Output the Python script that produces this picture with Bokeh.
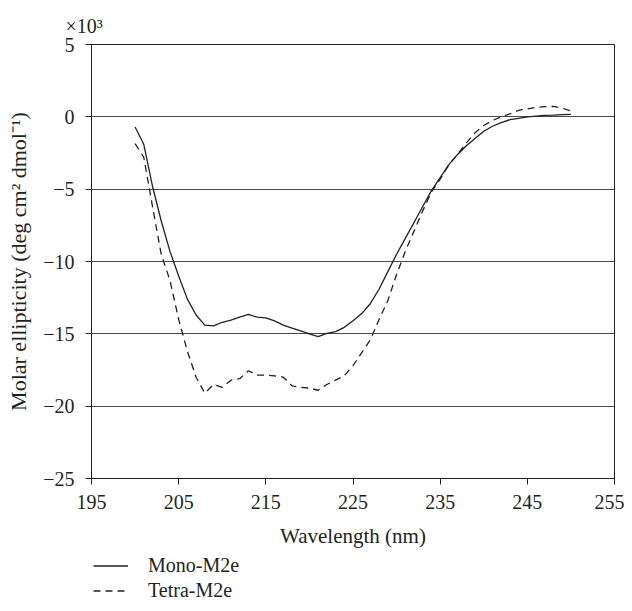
from bokeh.plotting import figure
from bokeh.layouts import column
from bokeh.models import (FixedTicker, CustomJSTickFormatter, Legend, LegendItem, Range1d)
from bokeh.embed import file_html
from bokeh.resources import INLINE

# Wavelength (nm)
wavelength = list(range(200, 251))

# Molar ellipticity (x10^3 deg cm2 dmol-1)
mono_m2e = [-0.7, -1.9, -4.8, -7.2, -9.3, -11.0, -12.6, -13.7, -14.4, -14.45,
            -14.2, -14.05, -13.85, -13.65, -13.85, -13.9, -14.1, -14.4, -14.6, -14.8,
            -15.0, -15.2, -14.97, -14.85, -14.55, -14.1, -13.6, -12.9, -11.9, -10.7,
            -9.5, -8.4, -7.3, -6.2, -5.1, -4.2, -3.3, -2.6, -2.0, -1.5,
            -1.0, -0.65, -0.4, -0.2, -0.1, 0.0, 0.05, 0.1, 0.12, 0.15, 0.17]
tetra_m2e = [-1.85, -2.8, -6.2, -9.5, -11.3, -14.0, -16.2, -18.0, -19.1, -18.5,
             -18.7, -18.2, -18.1, -17.55, -17.85, -17.85, -17.9, -18.0, -18.6, -18.7,
             -18.75, -18.9, -18.5, -18.2, -17.9, -17.2, -16.3, -15.4, -14.0, -12.7,
             -10.9, -9.3, -7.9, -6.5, -5.2, -4.3, -3.3, -2.6, -1.8, -1.1,
             -0.6, -0.25, 0.0, 0.2, 0.45, 0.55, 0.65, 0.7, 0.72, 0.6, 0.4]

x_ticks = [195, 205, 215, 225, 235, 245, 255]
y_ticks = [-25, -20, -15, -10, -5, 0, 5]
series_names = ["Mono-M2e", "Tetra-M2e"]

FONT = "Liberation Serif"
FS = "20px"
FS_AX = "21px"
INK = "#231f20"
DASH = "7 5"

p = figure(width=624, height=552, output_backend="svg", toolbar_location=None,
           x_range=Range1d(195, 255), y_range=Range1d(-25, 5),
           min_border_left=91, min_border_right=10, min_border_top=44, min_border_bottom=74,
           title="\u00d710\u00b3")
p.background_fill_color = "white"
p.border_fill_color = "white"
p.outline_line_color = INK
p.outline_line_width = 1

p.title.align = "left"
p.title.offset = -26
p.title.text_font = FONT
p.title.text_font_size = FS
p.title.text_font_style = "normal"
p.title.text_color = INK
p.title.standoff = 16

p.xgrid.visible = False
p.ygrid.ticker = FixedTicker(ticks=[-20, -15, -10, -5, 0])
p.ygrid.grid_line_color = "#4a4a4a"
p.ygrid.grid_line_width = 1

for ax in (p.xaxis[0], p.yaxis[0]):
    ax.axis_line_color = INK
    ax.major_tick_line_color = INK
    ax.major_tick_in = 0
    ax.major_tick_out = 6
    ax.minor_tick_line_color = None
    ax.major_label_text_font = FONT
    ax.major_label_text_font_size = FS
    ax.major_label_text_color = INK
    ax.axis_label_text_font = FONT
    ax.axis_label_text_font_size = FS_AX
    ax.axis_label_text_font_style = "normal"
    ax.axis_label_text_color = INK

p.yaxis.axis_label_text_font_size = "22px"
p.xaxis.ticker = FixedTicker(ticks=x_ticks)
p.yaxis.ticker = FixedTicker(ticks=y_ticks)
p.yaxis.formatter = CustomJSTickFormatter(
    code="return tick < 0 ? '\u2212' + Math.abs(tick) : tick.toString();")
p.xaxis.major_label_standoff = 10
p.yaxis.major_label_standoff = 11
p.xaxis.axis_label = "Wavelength (nm)"
p.yaxis.axis_label = "Molar ellipticity (deg cm\u00b2 dmol\u207b\u00b9)"
p.xaxis.axis_label_standoff = 12
p.yaxis.axis_label_standoff = 9

p.line(wavelength, mono_m2e, line_color=INK, line_width=1.3)
p.line(wavelength, tetra_m2e, line_color=INK, line_width=1.3, line_dash=DASH)

# legend strip below the chart (its frame is aligned with the chart's frame by column)
lg = figure(width=624, height=53, output_backend="svg", toolbar_location=None,
            x_range=Range1d(0, 1), y_range=Range1d(0, 1),
            min_border=0, min_border_left=0, min_border_right=0,
            min_border_top=0, min_border_bottom=0)
lg.axis.visible = False
lg.grid.visible = False
lg.outline_line_color = None
lg.background_fill_color = "white"
lg.border_fill_color = "white"
# same series, outside this strip's view: only their legend keys show
k1 = lg.line(wavelength, mono_m2e, line_color=INK, line_width=1.3)
k2 = lg.line(wavelength, tetra_m2e, line_color=INK, line_width=1.3, line_dash=DASH)
legend = Legend(items=[LegendItem(label=series_names[0], renderers=[k1]),
                       LegendItem(label=series_names[1], renderers=[k2])],
                location=(2, 2), orientation="vertical",
                border_line_color=None, background_fill_alpha=0,
                padding=0, spacing=0, margin=0,
                glyph_width=35, glyph_height=25, label_height=25,
                label_standoff=20, label_text_font=FONT, label_text_font_size=FS,
                label_text_color=INK)
lg.add_layout(legend, "center")

open("out.html", "w").write(file_html(column(p, lg), INLINE))
